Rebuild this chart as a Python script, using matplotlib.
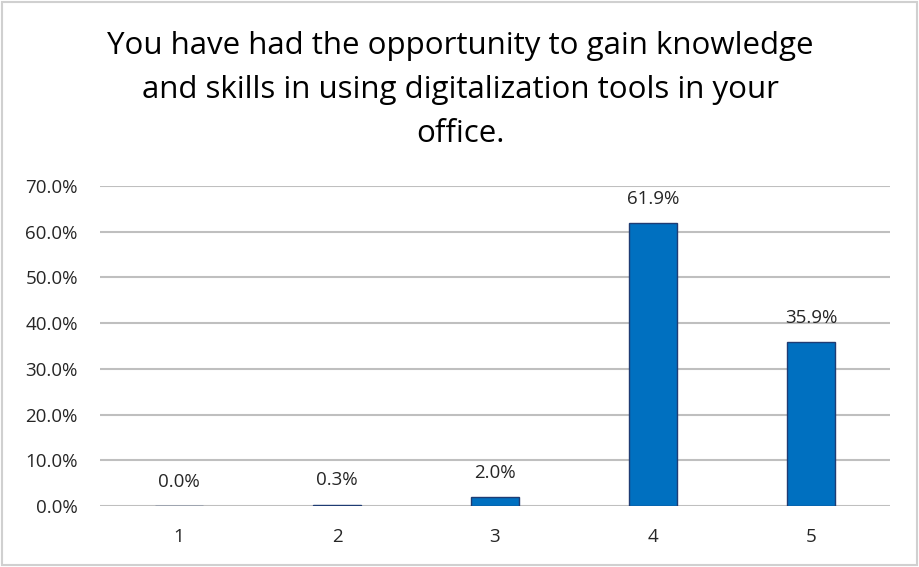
import matplotlib
matplotlib.use("Agg")
import matplotlib.pyplot as plt
from matplotlib.patches import Rectangle
from matplotlib.ticker import FuncFormatter, MultipleLocator

plt.rcParams["font.family"] = ["Open Sans", "DejaVu Sans"]

categories = ["1", "2", "3", "4", "5"]
shares = [0.0, 0.3, 2.0, 61.9, 35.9]
title = ("You have had the opportunity to gain knowledge\n"
         "and skills in using digitalization tools in your\n"
         "office.")

fig = plt.figure(figsize=(9.2, 5.67), dpi=100)
ax = fig.add_axes([100 / 920, 61 / 567, 790 / 920, 320 / 567])

x = range(len(categories))
ax.bar(x, shares, width=0.31, color="#0070C0",
       edgecolor="#1F3C73", linewidth=1.0, zorder=3)

for xi, v in zip(x, shares):
    ax.annotate(f"{v:.1f}%", (xi, v), xytext=(0, 17.5),
                textcoords="offset points", ha="center", va="center",
                fontsize=13.5, color="#262626")

ax.set_xlim(-0.5, len(categories) - 0.5)
ax.set_ylim(0, 70)
ax.yaxis.set_major_locator(MultipleLocator(10))
ax.yaxis.set_major_formatter(FuncFormatter(lambda v, _: f"{v:.1f}%"))
ax.set_xticks(list(x))
ax.set_xticklabels(categories)
ax.tick_params(axis="both", length=0, labelsize=13.5, colors="#262626")
ax.tick_params(axis="y", pad=16)
ax.tick_params(axis="x", pad=16)
ax.grid(axis="y", color="#BFBFBF", linewidth=1.5, zorder=0)
for s in ax.spines.values():
    s.set_visible(False)

fig.text(0.5, 1 - 31 / 567, title, ha="center", va="top",
         fontsize=22.5, color="#000000", linespacing=1.6)

fig.patches.append(Rectangle((2 / 920, 2 / 567), 915 / 920, 563 / 567,
                             transform=fig.transFigure, fill=False,
                             edgecolor="#D0D0D0", linewidth=1.5))

fig.savefig("out.png", dpi=100)
